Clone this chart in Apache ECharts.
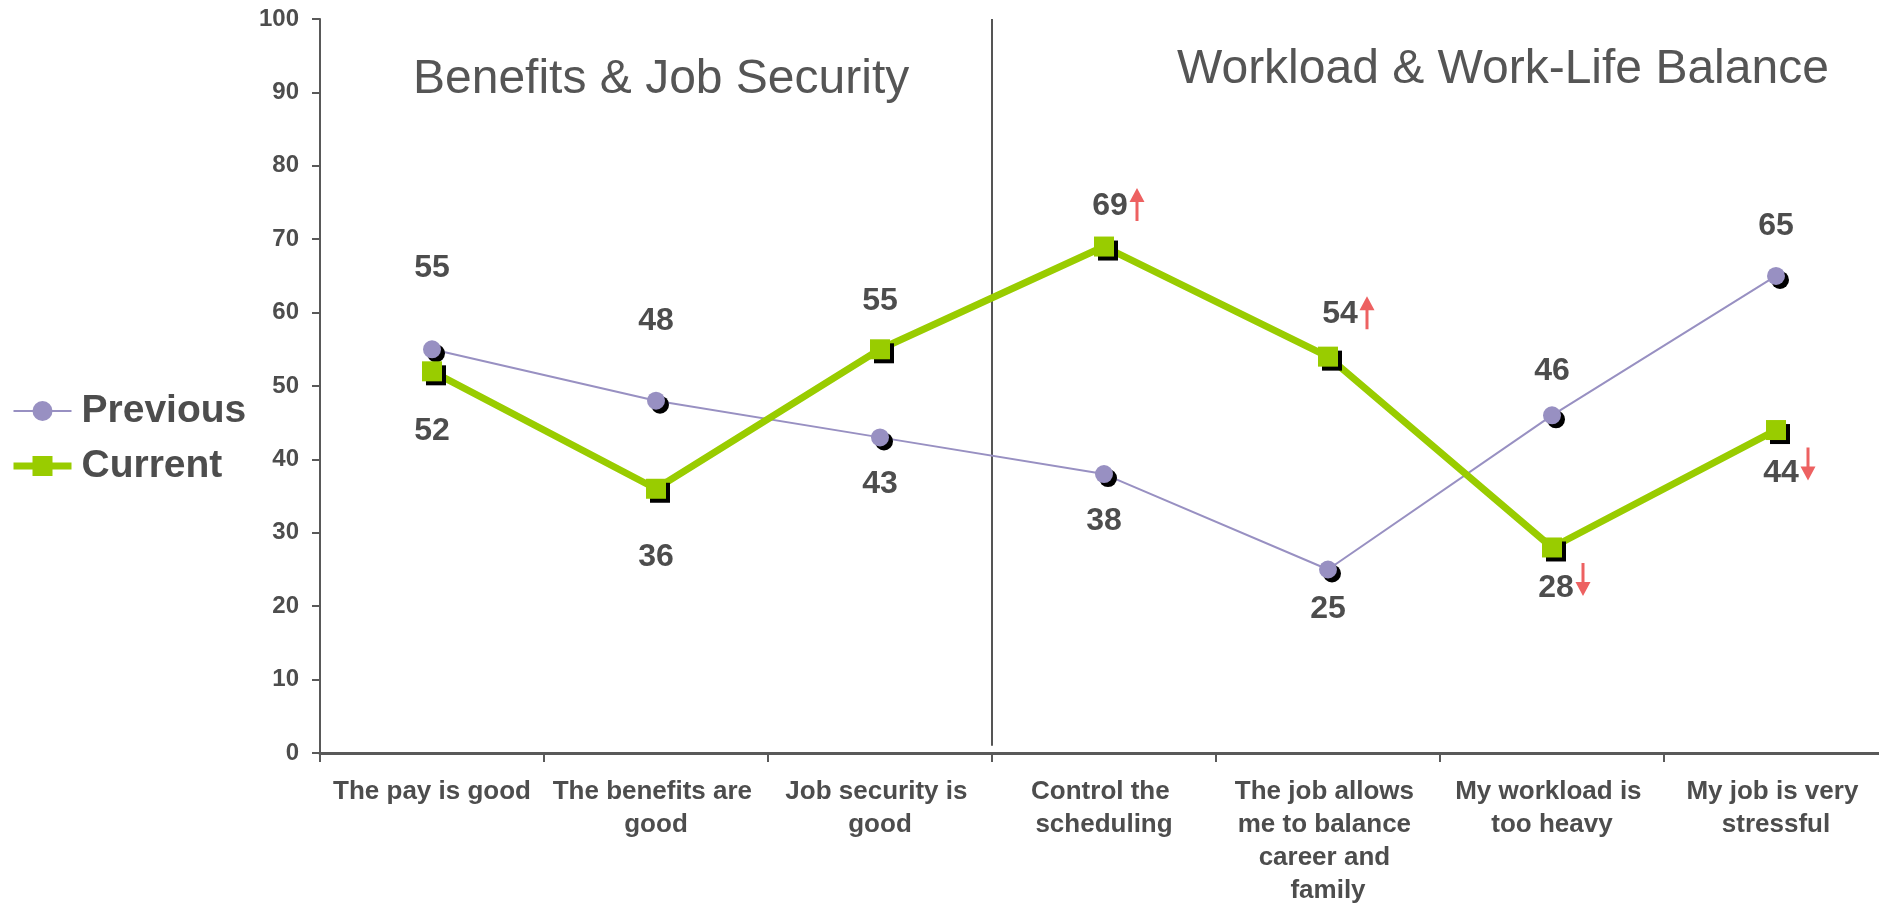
<!DOCTYPE html>
<html lang="en">
<head>
<meta charset="utf-8" />
<title>Benefits &amp; Workload</title>
<style>
  html, body { margin: 0; padding: 0; background: #fff; }
  #chart { width: 1879px; height: 907px; }
</style>
</head>
<body>
<div id="chart"></div>
<script src="https://cdn.jsdelivr.net/npm/echarts@6.0.0/dist/echarts.min.js"></script>
<script>
// ---- data ----
const categories = [
  'The pay is good',
  'The benefits are good',
  'Job security is good',
  'Control the scheduling',
  'The job allows me to balance career and family',
  'My workload is too heavy',
  'My job is very stressful'
];
const previous = [55, 48, 43, 38, 25, 46, 65];
const current = [52, 36, 55, 69, 54, 28, 44];
// significant change of Current vs Previous: 1 = up, -1 = down, 0 = none
const currentChange = [0, 0, 0, 1, 1, -1, -1];
const seriesNames = ['Previous', 'Current'];
const sectionTitles = ['Benefits & Job Security', 'Workload & Work-Life Balance'];
// section divider, x in category units (boundary after the 3rd item)
const dividerLine = [[3, 1], [3, 100]];

// ---- label placement (style only) ----
const prevLabelOffset = [[0, -81], [0, -80], [0, 47], [0, 47], [0, 40], [0, -44], [0, -50]];
const curLabelOffset = [[0, 60], [0, 68], [0, -48], [6, -40], [12, -42], [4, 41], [5, 43]];

const FONT = 'Liberation Sans, Arial, Helvetica, sans-serif';
const TEXT = '#4d4d4d';
const AXIS = '#595959';
const PURPLE = '#9890c2';
const GREEN = '#99cc00';
const RED = '#e83a3a';
const ARROW_UP = 'path://M7.5,0L15,14L9,14L9,33L6,33L6,14L0,14Z';
const ARROW_DOWN = 'path://M6,0L9,0L9,19L15,19L7.5,33L0,19L6,19Z';

const chart = echarts.init(document.getElementById('chart'));

const labelBase = {
  show: true,
  position: 'inside',
  formatter: '{c}',
  color: TEXT,
  fontFamily: FONT,
  fontSize: 32,
  fontWeight: 'bold'
};
const symbolShadow = {
  shadowColor: '#000',
  shadowBlur: 0,
  shadowOffsetX: 4,
  shadowOffsetY: 4
};

const prevData = previous.map(function (v, i) {
  return { value: v, label: { offset: prevLabelOffset[i] } };
});
const curData = current.map(function (v, i) {
  return { value: v, label: { offset: curLabelOffset[i] } };
});
const arrowData = [];
currentChange.forEach(function (d, i) {
  if (!d) return;
  arrowData.push({
    value: [i, current[i]],
    symbol: d > 0 ? ARROW_UP : ARROW_DOWN,
    symbolOffset: [curLabelOffset[i][0] + 27, curLabelOffset[i][1] + (d > 0 ? -2 : -9)]
  });
});

const option = {
  animation: false,
  backgroundColor: '#fff',
  textStyle: { fontFamily: FONT },
  title: [
    {
      text: sectionTitles[0], left: 413, top: 56, padding: 0,
      textStyle: { fontFamily: FONT, fontSize: 48, fontWeight: 'normal', color: '#555' }
    },
    {
      text: sectionTitles[1], left: 1177, top: 46, padding: 0,
      textStyle: { fontFamily: FONT, fontSize: 48, fontWeight: 'normal', color: '#555' }
    }
  ],
  legend: {
    data: [
      { name: seriesNames[0], lineStyle: { width: 2 } },
      { name: seriesNames[1], lineStyle: { width: 7 } }
    ],
    orient: 'vertical',
    left: 10,
    top: 391,
    itemWidth: 58,
    itemHeight: 25,
    itemGap: 15,
    padding: 0,
    itemStyle: { shadowColor: 'rgba(0,0,0,0)', shadowOffsetX: 0, shadowOffsetY: 0 },
    textStyle: {
      fontFamily: FONT, fontSize: 39, fontWeight: 'bold', color: TEXT,
      lineHeight: 40, padding: [0, 0, 0, 5]
    }
  },
  grid: {
    left: 320,
    top: 19,
    width: 1568,
    height: 734,
    containLabel: false,
    outerBoundsMode: 'none'
  },
  xAxis: [
    {
      type: 'category',
      data: categories,
      boundaryGap: true,
      axisLine: { show: true, lineStyle: { color: AXIS, width: 3 } },
      axisTick: { show: true, length: 9, lineStyle: { color: AXIS, width: 2 } },
      axisLabel: {
        interval: 0,
        margin: 22,
        color: TEXT,
        fontFamily: FONT,
        fontSize: 26,
        fontWeight: 'bold',
        lineHeight: 33,
        width: 212,
        overflow: 'break'
      },
      splitLine: { show: false }
    },
    {
      type: 'value',
      min: 0,
      max: categories.length,
      show: false
    }
  ],
  yAxis: {
    type: 'value',
    min: 0,
    max: 100,
    interval: 10,
    axisLine: { show: true, lineStyle: { color: AXIS, width: 2 } },
    axisTick: { show: true, length: 8, lineStyle: { color: AXIS, width: 2 } },
    axisLabel: {
      margin: 21,
      color: TEXT,
      fontFamily: FONT,
      fontSize: 24,
      fontWeight: 'bold'
    },
    splitLine: { show: false }
  },
  series: [
    {
      name: 'divider',
      type: 'line',
      xAxisIndex: 1,
      data: dividerLine,
      symbol: 'none',
      silent: true,
      lineStyle: { color: '#555', width: 2 },
      z: 1
    },
    {
      name: seriesNames[0],
      type: 'line',
      data: prevData,
      symbol: 'circle',
      symbolSize: 18,
      lineStyle: { color: PURPLE, width: 2 },
      itemStyle: Object.assign({ color: PURPLE }, symbolShadow),
      label: labelBase,
      z: 2
    },
    {
      name: seriesNames[1],
      type: 'line',
      data: curData,
      symbol: 'rect',
      symbolSize: 20,
      lineStyle: { color: GREEN, width: 7 },
      itemStyle: Object.assign({ color: GREEN }, symbolShadow),
      label: labelBase,
      z: 3
    },
    {
      name: 'change',
      type: 'scatter',
      data: arrowData,
      symbolSize: [15, 33],
      silent: true,
      itemStyle: { color: RED },
      z: 4
    }
  ]
};

chart.setOption(option);
window.onresize = function () {
  chart.resize();
};
</script>
</body>
</html>
